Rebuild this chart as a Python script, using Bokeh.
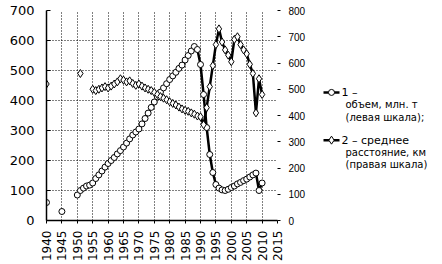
import math
from bokeh.plotting import figure
from bokeh.models import Range1d, LinearAxis, FixedTicker
from bokeh.layouts import row
from bokeh.core.properties import value
from bokeh.embed import file_html
from bokeh.resources import INLINE

# ---- data ----
vol_early_years = [1940, 1945]
vol_early = [60, 30]
vol_years = list(range(1950, 2011))
vol = [85, 100, 108, 115, 118, 125, 140, 152, 165, 178,
       190, 200, 210, 222, 233, 245, 258, 272, 285, 295,
       305, 322, 340, 358, 377, 395, 412, 428, 442, 456,
       470, 482, 494, 507, 518, 535, 550, 565, 580, 570,
       520, 420, 310, 220, 160, 120, 108, 102, 100, 104,
       110, 115, 122, 127, 133, 138, 145, 152, 158, 100,
       125]

dist_early_years = [1940, 1951]
dist_early = [520, 560]
dist_years = list(range(1955, 2011))
dist = [500, 495, 500, 505, 510, 505, 512, 520, 528, 540,
        535, 528, 532, 522, 515, 520, 512, 505, 500, 495,
        488, 480, 472, 466, 460, 452, 446, 440, 432, 425,
        420, 416, 410, 405, 398, 395, 365, 430, 510, 590,
        670, 730, 680, 650, 630, 605, 690, 700, 670, 650,
        635, 595, 560, 410, 540, 480]

x_ticks = list(range(1940, 2016, 5))
left_ticks = list(range(0, 701, 100))
right_ticks = list(range(0, 801, 100))

legend_lines = [["1 –", "объем, млн. т", "(левая шкала);"],
                ["2 – среднее", "расстояние, км", "(правая шкала)"]]

FONT = "DejaVu Sans"

p = figure(width=310, height=264, output_backend="svg", toolbar_location=None,
           x_range=Range1d(1940, 2015), y_range=Range1d(0, 700),
           min_border_left=46, min_border_right=33, min_border_top=10,
           min_border_bottom=44)
p.outline_line_color = None
p.background_fill_color = "white"
p.border_fill_color = "white"

p.extra_y_ranges = {"dist": Range1d(0, 800)}

# grids
p.xgrid.ticker = FixedTicker(ticks=x_ticks)
p.ygrid.ticker = FixedTicker(ticks=left_ticks)
for g in (p.xgrid, p.ygrid):
    g.grid_line_color = "black"
    g.grid_line_dash = "1 2"
    g.grid_line_width = 1

# x axis
xa = p.xaxis[0]
xa.ticker = FixedTicker(ticks=x_ticks)
xa.major_label_orientation = math.pi / 2
xa.major_label_text_font = FONT
xa.major_label_text_font_size = "12px"
xa.major_label_text_color = "black"
xa.major_tick_out = 3
xa.major_tick_in = 0
xa.minor_tick_line_color = None
xa.major_label_standoff = 7
xa.axis_line_width = 1.5
xa.axis_line_color = "black"

# left axis
ya = p.yaxis[0]
ya.ticker = FixedTicker(ticks=left_ticks)
ya.major_label_text_font = FONT
ya.major_label_text_font_size = "13px"
ya.major_label_text_color = "black"
ya.major_tick_in = 4
ya.major_tick_out = 0
ya.minor_tick_line_color = None
ya.major_label_standoff = 12
ya.axis_line_width = 1.5
ya.axis_line_color = "black"

# right axis
ra = LinearAxis(y_range_name="dist", ticker=FixedTicker(ticks=right_ticks))
ra.axis_line_color = None
ra.major_tick_out = 3
ra.major_tick_in = 0
ra.minor_tick_line_color = None
ra.major_label_standoff = 8
ra.major_label_text_font = "Liberation Sans"
ra.major_label_text_font_size = "10px"
ra.major_label_text_color = "black"
p.add_layout(ra, "right")

# series 1 (volume, left scale)
p.line(vol_years, vol, line_color="black", line_width=2.5)
p.scatter(vol_years, vol, marker="circle", size=6, line_color="black",
          fill_color="white", line_width=1)
p.scatter(vol_early_years, vol_early, marker="circle", size=6, line_color="black",
          fill_color="white", line_width=1)

# series 2 (distance, right scale)
p.line(dist_years, dist, line_color="black", line_width=2.5, y_range_name="dist")
p.scatter(dist_years, dist, marker="diamond", size=8, line_color="black",
          fill_color="white", line_width=1, y_range_name="dist")
p.scatter(dist_early_years, dist_early, marker="diamond", size=8, line_color="black",
          fill_color="white", line_width=1, y_range_name="dist")

# legend panel
lg = figure(width=132, height=264, output_backend="svg", toolbar_location=None,
            x_range=Range1d(0, 132), y_range=Range1d(264, 0),
            min_border=0, x_axis_location=None, y_axis_location=None)
lg.outline_line_color = None
lg.xgrid.visible = False
lg.ygrid.visible = False
lg.border_fill_color = "white"

rows_y = [103, 163]
markers = ["circle", "diamond"]
msize = [6, 8]
for i in range(2):
    y0 = rows_y[i]
    lg.segment(x0=[13], y0=[y0], x1=[29], y1=[y0], line_color="black", line_width=2.5)
    lg.scatter([21], [y0], marker=markers[i], size=msize[i], line_color="black",
               fill_color="white")
    lines = legend_lines[i]
    lg.text([31], [y0], text=[lines[0]], text_font=value(FONT), text_font_size="11px",
            text_baseline="middle", text_color="black")
    lg.text([35, 35], [y0 + 15.5, y0 + 31], text=lines[1:], text_font=value(FONT),
            text_font_size="10px", text_baseline="middle", text_color="black")

layout = row(p, lg)
open("out.html", "w").write(file_html(layout, INLINE))
